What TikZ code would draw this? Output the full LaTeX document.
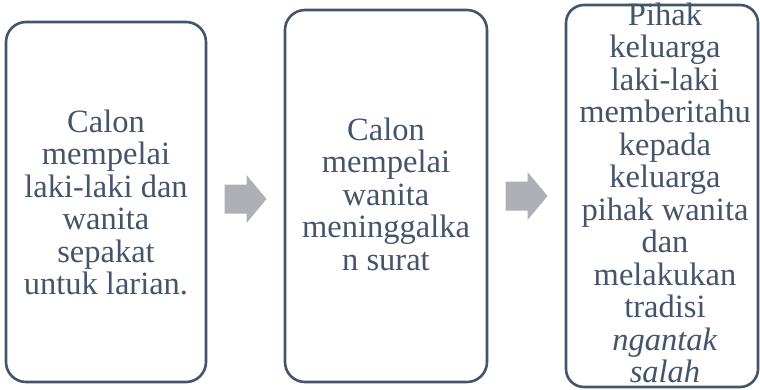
\documentclass[tikz,border=0pt]{standalone}
\usepackage{fontspec}
\setmainfont{Liberation Serif}
\usetikzlibrary{calc}
\definecolor{txtc}{HTML}{44546A}
\definecolor{arrc}{HTML}{AEB0B6}
\begin{document}
\begin{tikzpicture}[x=1pt,y=-1pt,
  boxst/.style={draw=txtc, line width=2.6pt, rounded corners=20pt, inner sep=0pt},
  txtst/.style={text=txtc, inner sep=0pt, anchor=north, align=center,
     font=\fontsize{32.5}{32.5}\selectfont},
  blockarrow/.pic={\fill[arrc] (-21,-14.5) -- (1,-14.5) -- (1,-24) -- (21,0) -- (1,24) -- (1,14.5) -- (-21,14.5) -- cycle;}]
\useasboundingbox (0,0) rectangle (760,389);
\node[boxst, minimum width=200pt, minimum height=360pt] (b1) at (106,202) {};
\node[boxst, minimum width=202pt, minimum height=372pt] (b2) at (386,196) {};
\node[boxst, minimum width=192pt, minimum height=382pt, rounded corners=18pt] (b3) at (662,196) {};
\node[txtst] (t1) at (106,109.25) {\strut Calon\\mempelai\\laki-laki dan\\wanita\\sepakat\\untuk larian.};
\node[txtst] (t2) at (386,117.25) {\strut Calon\\mempelai\\wanita\\meninggalka\\n surat};
\node[txtst] (t3) at (665,2.25) {\strut Pihak\\keluarga\\laki-laki\\memberitahu\\kepada\\keluarga\\pihak wanita\\dan\\melakukan\\tradisi\\\textit{ngantak}\\\textit{salah}};
\pic at ($(b1.east)!0.5!(b2.west)$) {blockarrow};
\pic at ($(b2.east)!0.5!(b3.west)$) {blockarrow};
\end{tikzpicture}
\end{document}
